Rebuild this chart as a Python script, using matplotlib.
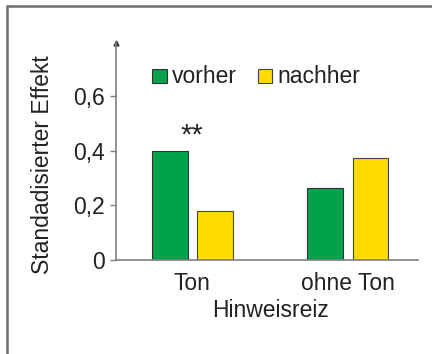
import numpy as np
import matplotlib
matplotlib.use('Agg')
import matplotlib.pyplot as plt
from matplotlib.patches import Rectangle

plt.rcParams['font.family'] = ['Liberation Sans', 'DejaVu Sans']

groups = ['Ton', 'ohne Ton']
vorher = [0.40, 0.264]
nachher = [0.18, 0.374]
yticks = [0, 0.2, 0.4, 0.6]
ytick_labels = ['0', '0,2', '0,4', '0,6']

green = '#00a24c'
yellow = '#ffdc00'
axis_gray = '#7f7f7f'
text_col = '#222222'
fs = 16.5

fig = plt.figure(figsize=(4.32, 3.54), dpi=100)
fig.patches.append(Rectangle((7 / 432, -0.1), 1.2, (354 - 6) / 354 + 0.1,
                             transform=fig.transFigure, fill=False,
                             edgecolor='#6e6e6e', linewidth=1.8))

ax = fig.add_axes([116 / 432, 94 / 354, 302 / 432, 217 / 354])
x = np.arange(len(groups))
w = 0.23
ax.bar(x - 0.145, vorher, w, color=green, edgecolor='#333333', linewidth=0.8)
ax.bar(x + 0.145, nachher, w, color=yellow, edgecolor='#444444', linewidth=0.8)

ax.set_xlim(-0.49, 1.45)
ax.set_ylim(0, 0.796)
ax.set_yticks(yticks)
ax.set_yticklabels(ytick_labels, fontsize=fs, color=text_col)
ax.set_xticks(x)
ax.set_xticklabels(groups, fontsize=fs, color=text_col)
ax.tick_params(axis='x', length=0, pad=9)
ax.tick_params(axis='y', length=4.5, width=1, color=axis_gray, pad=3.5)
ax.set_xlabel('Hinweisreiz', fontsize=fs, color=text_col)
ax.xaxis.set_label_coords(0.51, -0.18)

for s in ['top', 'right']:
    ax.spines[s].set_visible(False)
for s in ['left', 'bottom']:
    ax.spines[s].set_color(axis_gray)
    ax.spines[s].set_linewidth(1.2)
ax.plot(0, 1, marker='^', color='#333333', markersize=3.5,
        transform=ax.transAxes, clip_on=False)

fig.text(43 / 432, 1 - 165 / 354, 'Standadisierter Effekt', rotation=90,
         ha='center', va='center', fontsize=fs, color=text_col)

ax.text(x[0], 0.455, '**', ha='center', va='center', fontsize=21, color=text_col)

# legend drawn by hand
ax.add_patch(Rectangle((-0.26, 0.65), 0.096, 0.051, facecolor=green,
                       edgecolor='#333333', linewidth=0.8))
ax.text(-0.128, 0.674, 'vorher', fontsize=fs, va='center', color=text_col)
ax.add_patch(Rectangle((0.421, 0.65), 0.09, 0.051, facecolor=yellow,
                       edgecolor='#444444', linewidth=0.8))
ax.text(0.548, 0.674, 'nachher', fontsize=fs, va='center', color=text_col)

fig.savefig('out.png', dpi=100)
